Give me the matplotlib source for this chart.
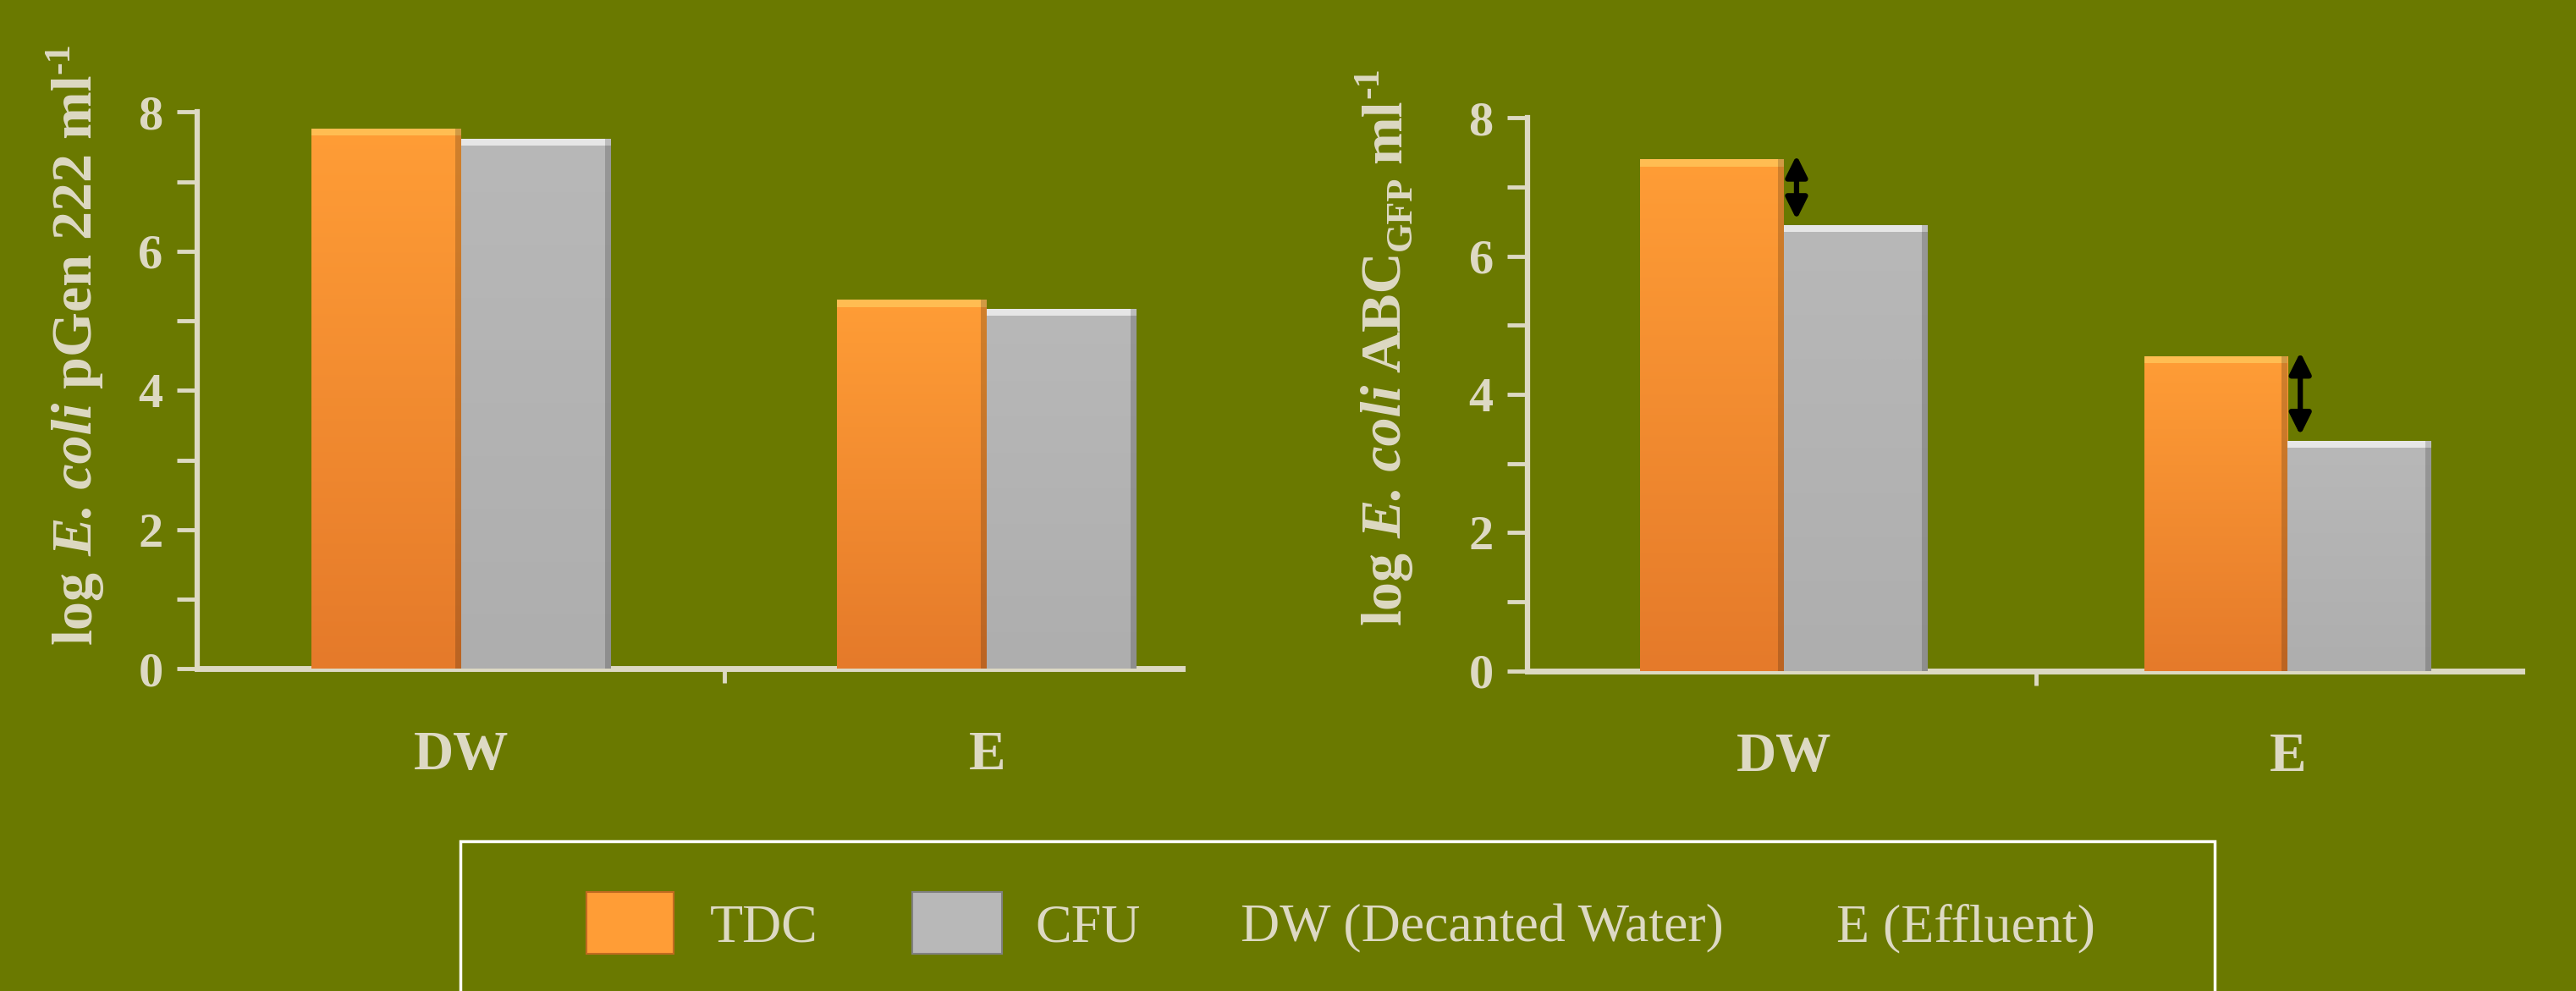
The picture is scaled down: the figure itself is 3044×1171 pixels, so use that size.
import numpy as np
import matplotlib
matplotlib.use('Agg')
import matplotlib.pyplot as plt
from matplotlib.patches import Rectangle
from matplotlib.ticker import MultipleLocator

# data
categories = ['DW', 'E']
pgen_tdc = [7.76, 5.30]
pgen_cfu = [7.62, 5.17]
abc_tdc = [7.40, 4.55]
abc_cfu = [6.45, 3.33]
legend_labels = ['TDC', 'CFU', 'DW (Decanted Water)', 'E (Effluent)']

bg = '#6a7900'
fg = '#ddd9c3'
orange_top, orange_bot = '#ff9d36', '#e57a2a'
grey_top, grey_bot = '#b8b8b8', '#aeaeae'

plt.rcParams['font.family'] = ['Liberation Serif', 'DejaVu Serif']

fig = plt.figure(figsize=(30.44, 11.71), dpi=100)
fig.patch.set_facecolor(bg)
renderer = fig.canvas.get_renderer()
W, H = fig.bbox.width, fig.bbox.height

width = 0.285


def gradient_bars(ax, xs, hs, c_top, c_bot, hi):
    bars = ax.bar(xs, hs, width, color=c_top, edgecolor='none', zorder=2)
    grad = np.linspace(0, 1, 256).reshape(-1, 1)
    cmap = matplotlib.colors.LinearSegmentedColormap.from_list('g', [c_top, c_bot])
    for b in bars:
        x0, y0 = b.get_x(), b.get_y()
        im = ax.imshow(grad, cmap=cmap, aspect='auto', zorder=3, origin='upper',
                       extent=[x0, x0 + b.get_width(), y0, y0 + b.get_height()])
        im.set_clip_path(b)
    # bevel at the top and shaded right edge
    ax.bar(xs, [0.1] * len(hs), width, bottom=[h - 0.1 for h in hs],
           color=hi, edgecolor='none', zorder=4)
    ax.bar([x + width / 2 - 0.006 for x in xs], hs, 0.012, color='black',
           alpha=0.18, edgecolor='none', zorder=4)
    return bars


def setup_axes(ax, xlim):
    ax.set_facecolor('none')
    ax.set_xlim(*xlim)
    ax.set_ylim(0, 8)
    for s in ['top', 'right']:
        ax.spines[s].set_visible(False)
    ax.spines['left'].set_color(fg)
    ax.spines['bottom'].set_color(fg)
    ax.spines['left'].set_linewidth(4.5)
    ax.spines['bottom'].set_linewidth(5)
    ax.yaxis.set_major_locator(MultipleLocator(2))
    ax.yaxis.set_minor_locator(MultipleLocator(1))
    ax.tick_params(axis='y', which='both', colors=fg, length=17, width=3.5,
                   direction='out', pad=12)
    ax.tick_params(axis='y', which='major', labelsize=42)
    for t in ax.get_yticklabels():
        t.set_fontweight('bold')
    ax.set_xticks(range(len(categories)))
    ax.set_xticklabels(categories, fontsize=47, fontweight='bold', color=fg)
    ax.tick_params(axis='x', which='major', length=0, pad=52)
    ax.set_xticks([0.5], minor=True)
    ax.tick_params(axis='x', which='minor', length=12, width=3.5, color=fg,
                   direction='out')


def vlabel(xb, yb, runs, size):
    # rotated label built from runs: (text, style, weight, scale, rise, gap)
    y = yb * H
    for s, style, weight, scale, rise, gap in runs:
        t = fig.text(0, 0, s, rotation=90, rotation_mode='anchor', ha='left',
                     va='baseline', fontsize=size * scale, fontstyle=style,
                     fontweight=weight, color=fg)
        t.set_position(((xb * W - rise * size) / W, y / H))
        y += t.get_window_extent(renderer).height + gap * size


x = np.arange(len(categories))

# left panel
ax1 = fig.add_axes([0.0765, 0.325, 0.3825, 0.562])
setup_axes(ax1, (-0.503, 1.372))
gradient_bars(ax1, x - width / 2, pgen_tdc, orange_top, orange_bot, '#ffbd52')
gradient_bars(ax1, x + width / 2, pgen_cfu, grey_top, grey_bot, '#e6e6e6')
vlabel(0.0355, 0.35, [
    ('log', 'normal', 'bold', 1, 0, 0.35),
    ('E. coli', 'italic', 'bold', 1, 0, 0.35),
    ('pGen 222 ml', 'normal', 'bold', 1, 0, 0.02),
    ('-1', 'normal', 'bold', 0.65, 0.55, 0),
], 49)

# right panel
ax2 = fig.add_axes([0.593, 0.323, 0.386, 0.558])
setup_axes(ax2, (-0.509, 1.465))
gradient_bars(ax2, x - width / 2, abc_tdc, orange_top, orange_bot, '#ffbd52')
gradient_bars(ax2, x + width / 2, abc_cfu, grey_top, grey_bot, '#e6e6e6')
for i in range(len(categories)):
    ax2.annotate('', xy=(x[i] + 0.025, abc_cfu[i] + 0.08),
                 xytext=(x[i] + 0.025, abc_tdc[i] + 0.06),
                 arrowprops=dict(arrowstyle='<|-|>', color='black', lw=4.5,
                                 mutation_scale=38, shrinkA=0, shrinkB=0),
                 zorder=6)
vlabel(0.5437, 0.37, [
    ('log', 'normal', 'bold', 1, 0, 0.3),
    ('E. coli', 'italic', 'bold', 1, 0, 0.3),
    ('ABC', 'normal', 'bold', 1, 0, 0.02),
    ('GFP', 'normal', 'bold', 0.65, -0.25, 0.3),
    ('ml', 'normal', 'bold', 1, 0, 0.02),
    ('-1', 'normal', 'bold', 0.65, 0.55, 0),
], 49)

# legend box
fig.patches.append(Rectangle((0.1786, -0.05), 0.6811, 0.201, transform=fig.transFigure,
                             facecolor='none', edgecolor='white', lw=2.5))
fig.patches.append(Rectangle((0.2277, 0.038), 0.0338, 0.0615, transform=fig.transFigure,
                             facecolor=orange_top, edgecolor='#c06a20', lw=1.5))
fig.patches.append(Rectangle((0.354, 0.038), 0.035, 0.0615, transform=fig.transFigure,
                             facecolor=grey_top, edgecolor='#808080', lw=1.5))
leg_x = [0.2755, 0.4018, 0.4815, 0.713]
for lx, lab in zip(leg_x, legend_labels):
    fig.text(lx, 0.063, lab, ha='left', va='center', fontsize=46, color=fg)

fig.savefig('out.png', dpi=100, facecolor=bg)
